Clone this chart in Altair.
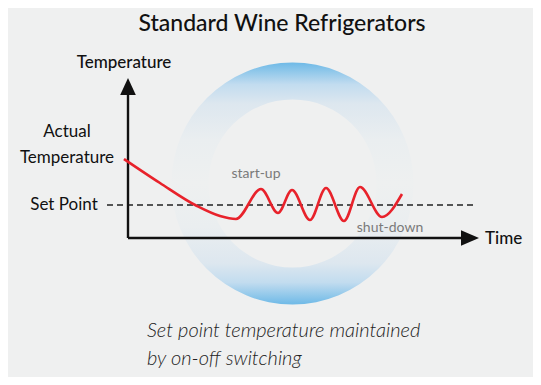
import altair as alt
import pandas as pd

# ---- data (illustration units: time to the right, temperature upward; origin at the axis corner)
curve_time = [-4, 32, 69, 92, 108, 133, 150, 164, 182, 198, 216, 232, 254, 274]
curve_temp = [79, 55, 32, 22, 19, 49, 25, 48, 18, 50, 17, 51, 21, 44]

set_point_temp = 33
set_point_span = [-21, 349]

axis_time_end = 334
axis_temp_end = 143
arrow_up_pos = [0, 151.5]
arrow_right_pos = [342, 0]

ring_center = [164.5, 54.5]

label_text = ["Actual", "Temperature", "Set Point"]
label_t = [-61, -61, -64]
label_T = [101, 75, 28]

note_text = ["start-up", "shut-down"]
note_t = [128, 262]
note_T = [60, 6]

caption_lines = ["Set point temperature maintained", "by on-off switching"]
caption_t = [19, 19]
caption_T = [-99, -127]

title_text = "Standard Wine Refrigerators"
title_pos = [154, 207]
ylabel_text = "Temperature"
ylabel_pos = [-4, 170]
xlabel_text = "Time"
xlabel_pos = [357, -6]

BG = "#eff0f0"
FONT = "Lato"

X = lambda f="t": alt.X(f"{f}:Q", scale=alt.Scale(domain=[-120, 405], nice=False, zero=False), axis=None)
Y = lambda f="T": alt.Y(f"{f}:Q", scale=alt.Scale(domain=[-139, 230], nice=False, zero=False), axis=None)

# ring with vertical gradient (blue at top and bottom, fading to background at mid height)
ring_grad = alt.LinearGradient(
    gradient="linear", x1=0.5, x2=0.5, y1=0.001, y2=0.999,
    stops=[
        alt.GradientStop(color="#6fbae7", offset=0),
        alt.GradientStop(color="#c2dcef", offset=0.09),
        alt.GradientStop(color="#dde7ef", offset=0.17),
        alt.GradientStop(color="#eaeef0", offset=0.32),
        alt.GradientStop(color="#eef0f0", offset=0.5),
        alt.GradientStop(color="#eaeef0", offset=0.68),
        alt.GradientStop(color="#dde7ef", offset=0.83),
        alt.GradientStop(color="#c2dcef", offset=0.91),
        alt.GradientStop(color="#6fbae7", offset=1),
    ],
)
ring = alt.Chart(pd.DataFrame({"t": [ring_center[0]], "T": [ring_center[1]]})).mark_arc(
    theta=0, theta2=6.2832, radius=121, radius2=84, fill=ring_grad
).encode(x=X(), y=Y())

# axes
axes_df = pd.DataFrame({
    "t": [0, 0], "T": [0, 0],
    "t2": [axis_time_end, 0], "T2": [0, axis_temp_end],
})
axes = alt.Chart(axes_df).mark_rule(color="#111111", strokeWidth=2.4).encode(
    x=X(), y=Y(), x2="t2:Q", y2="T2:Q"
)
arrow_up = alt.Chart(pd.DataFrame({"t": [arrow_up_pos[0]], "T": [arrow_up_pos[1]]})).mark_point(
    shape="M0,-1L0.92,1L-0.92,1Z", size=289, filled=True, color="#111111", opacity=1
).encode(x=X(), y=Y())
arrow_right = alt.Chart(pd.DataFrame({"t": [arrow_right_pos[0]], "T": [arrow_right_pos[1]]})).mark_point(
    shape="M1,0L-1,0.85L-1,-0.85Z", size=324, filled=True, color="#111111", opacity=1
).encode(x=X(), y=Y())

# set point dashed line
sp = alt.Chart(pd.DataFrame({"t": [set_point_span[0]], "t2": [set_point_span[1]], "T": [set_point_temp]})).mark_rule(
    color="#222222", strokeWidth=1.3, strokeDash=[6, 4]
).encode(x=X(), x2="t2:Q", y=Y())

# temperature curve
curve = alt.Chart(pd.DataFrame({"t": curve_time, "T": curve_temp, "i": range(len(curve_time))})).mark_line(
    interpolate="monotone", color="#e8222b", strokeWidth=2.6
).encode(x=X(), y=Y(), order="i:Q")

def texts(df, **kw):
    return alt.Chart(df).mark_text(font=FONT, baseline="alphabetic", **kw).encode(x=X(), y=Y(), text="s:N")

title = texts(pd.DataFrame({"t": [title_pos[0]], "T": [title_pos[1]], "s": [title_text]}),
              align="center", fontSize=23, fontWeight=500, color="#111111")
ylabel = texts(pd.DataFrame({"t": [ylabel_pos[0]], "T": [ylabel_pos[1]], "s": [ylabel_text]}),
               align="center", fontSize=17, fontWeight=500, color="#111111")
xlabel = texts(pd.DataFrame({"t": [xlabel_pos[0]], "T": [xlabel_pos[1]], "s": [xlabel_text]}),
               align="left", fontSize=17, fontWeight=500, color="#111111")
labels = texts(pd.DataFrame({"t": label_t, "T": label_T, "s": label_text}),
               align="center", fontSize=17, fontWeight=400, color="#111111")
notes = texts(pd.DataFrame({"t": note_t, "T": note_T, "s": note_text}),
              align="center", fontSize=14, fontWeight=400, color="#7a7a7a")
caption = texts(pd.DataFrame({"t": caption_t, "T": caption_T, "s": caption_lines}),
                align="left", fontSize=20, fontWeight=300, fontStyle="italic", color="#222222")

chart = alt.layer(
    ring, sp, axes, arrow_up, arrow_right, curve, title, ylabel, xlabel, labels, notes, caption
).properties(
    width=525, height=369, background=BG, padding=0,
    autosize=alt.AutoSizeParams(type="fit", contains="padding"),
).configure_view(stroke=None)

chart.save("out.html", embed_options={"renderer": "svg", "actions": False})
